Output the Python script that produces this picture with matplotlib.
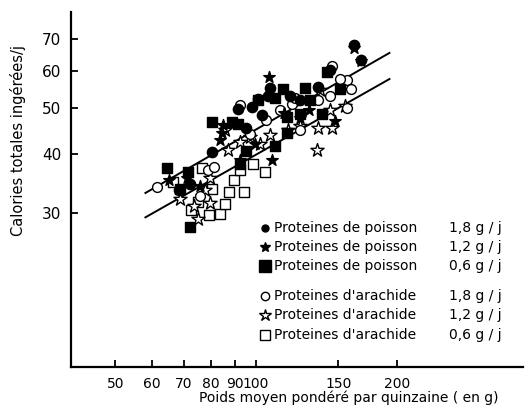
import matplotlib
matplotlib.use('Agg')
from matplotlib import pyplot as plt

# Poids moyen (g) et calories ingerees par groupe
poisson_18_x = [68.5, 72.4, 91.4, 97.9, 100.9, 107.0, 106.0, 118.0, 124.0, 135.5, 143.8, 161.9, 168.0, 103.0, 95.0, 80.7]
poisson_18_y = [33.5, 34.6, 49.7, 50.2, 52.3, 55.2, 53.0, 53.0, 52.0, 55.5, 60.1, 68.0, 63.2, 48.4, 45.4, 40.4]

poisson_12_x = [65.3, 83.6, 84.4, 84.8, 106.5, 108.2, 147.5, 162.0, 168.0, 124.0, 114.6, 92.3, 99.3, 75.8, 71.2, 130.0]
poisson_12_y = [35.2, 42.8, 44.4, 46.0, 58.3, 38.9, 47.0, 67.0, 62.9, 47.6, 48.8, 38.8, 41.9, 34.3, 35.6, 49.5]

poisson_06_x = [64.6, 71.5, 68.9, 72.4, 80.6, 89.0, 91.3, 95.4, 92.3, 109.8, 114.4, 127.0, 141.7, 130.3, 124.0, 116.6, 116.6, 109.8, 151.0, 138.7, 101.0]
poisson_06_y = [37.4, 36.6, 33.7, 28.0, 46.8, 46.8, 46.4, 40.6, 38.1, 52.6, 54.8, 55.2, 59.6, 52.0, 48.6, 47.8, 44.3, 41.5, 55.0, 48.6, 52.0]

arachide_18_x = [61.3, 78.9, 75.8, 92.3, 119.3, 121.0, 145.1, 156.3, 159.7, 156.3, 143.8, 135.5, 112.4, 104.8, 97.0, 124.0, 81.5, 151.0]
arachide_18_y = [34.1, 37.0, 32.6, 50.7, 51.1, 52.6, 61.5, 57.3, 54.8, 50.0, 53.0, 52.0, 49.5, 47.2, 44.0, 44.9, 37.6, 57.7]

arachide_12_x = [68.7, 75.0, 79.9, 77.7, 79.6, 87.0, 92.3, 97.0, 101.9, 107.0, 117.2, 124.0, 135.5, 145.1, 134.8, 143.8, 155.0, 136.9, 85.7, 73.8]
arachide_12_y = [32.2, 29.2, 31.6, 33.5, 35.6, 40.8, 42.4, 43.4, 41.9, 43.8, 44.9, 45.9, 45.5, 45.3, 40.8, 49.5, 50.4, 54.6, 44.9, 31.0]

arachide_06_x = [66.3, 76.6, 75.0, 72.6, 79.2, 83.6, 87.4, 94.2, 104.3, 98.5, 80.6, 89.9, 86.0, 92.3]
arachide_06_y = [34.9, 37.4, 31.7, 30.4, 29.8, 29.9, 33.2, 33.2, 36.6, 38.1, 33.7, 35.2, 31.4, 37.0]

# droites de regression (extremites)
droite_x = [58, 193]
droite_haut_y = [33.1, 65.4]
droite_bas_y = [29.4, 57.6]

x_ticks = [50, 60, 70, 80, 90, 100, 150, 200]
y_ticks = [30, 40, 50, 60, 70]

legende = [
    ('o', 'k', 'k', 5, 'Proteines de poisson', '1,8 g / j'),
    ('*', 'k', 'k', 7, 'Proteines de poisson', '1,2 g / j'),
    ('s', 'k', 'k', 8, 'Proteines de poisson', '0,6 g / j'),
    ('o', 'w', 'k', 6, "Proteines d'arachide", '1,8 g / j'),
    ('*', 'w', 'k', 9, "Proteines d'arachide", '1,2 g / j'),
    ('s', 'w', 'k', 7, "Proteines d'arachide", '0,6 g / j'),
]

fig = plt.figure(figsize=(5.28, 4.12), dpi=100)
ax = fig.add_axes([0.1345, 0.1092, 0.856, 0.8617])

ax.plot(droite_x, droite_haut_y, color='k', lw=1.4, zorder=1)
ax.plot(droite_x, droite_bas_y, color='k', lw=1.4, zorder=1)

ax.scatter(arachide_06_x, arachide_06_y, marker='s', s=50, facecolor='w', edgecolor='k', lw=1.0, zorder=2)
ax.scatter(arachide_12_x, arachide_12_y, marker='*', s=100, facecolor='w', edgecolor='k', lw=1.0, zorder=2)
ax.scatter(arachide_18_x, arachide_18_y, marker='o', s=50, facecolor='w', edgecolor='k', lw=1.0, zorder=2)
ax.scatter(poisson_06_x, poisson_06_y, marker='s', s=60, color='k', zorder=3)
ax.scatter(poisson_12_x, poisson_12_y, marker='*', s=75, color='k', zorder=3)
ax.scatter(poisson_18_x, poisson_18_y, marker='o', s=55, color='k', zorder=3)

ax.set_xscale('log')
ax.set_yscale('log')
ax.set_xlim(40.2, 372.6)
ax.set_ylim(14.2, 79.8)
ax.minorticks_off()
ax.set_xticks(x_ticks)
ax.set_xticklabels([str(t) for t in x_ticks])
ax.set_yticks(y_ticks)
ax.set_yticklabels([str(t) for t in y_ticks])
ax.tick_params(direction='in', length=5, width=1.3, labelsize=11, pad=7)
ax.tick_params(axis='x', labelsize=10)

for cote in ['top', 'right']:
    ax.spines[cote].set_visible(False)
for cote in ['left', 'bottom']:
    ax.spines[cote].set_linewidth(1.6)

# legende dessinee a la main
rangs_y = [0.3915, 0.338, 0.2845, 0.2, 0.1465, 0.0901]
for (m, fc, ec, ms, nom, dose), yy in zip(legende, rangs_y):
    ax.plot([0.429], [yy], marker=m, ms=ms, mfc=fc, mec=ec, mew=1.0,
            transform=ax.transAxes, clip_on=False, linestyle='none')
    ax.text(0.449, yy, nom, transform=ax.transAxes, fontsize=10, va='center', ha='left')
    ax.text(0.836, yy, dose, transform=ax.transAxes, fontsize=10, va='center', ha='left')

fig.text(0.034, 0.66, 'Calories totales ingérées/j', rotation=90, fontsize=10.5,
         ha='center', va='center')
fig.text(0.66, 0.035, 'Poids moyen pondéré par quinzaine ( en g)', fontsize=10,
         ha='center', va='center')

plt.savefig('out.png', dpi=100)
plt.close('all')
